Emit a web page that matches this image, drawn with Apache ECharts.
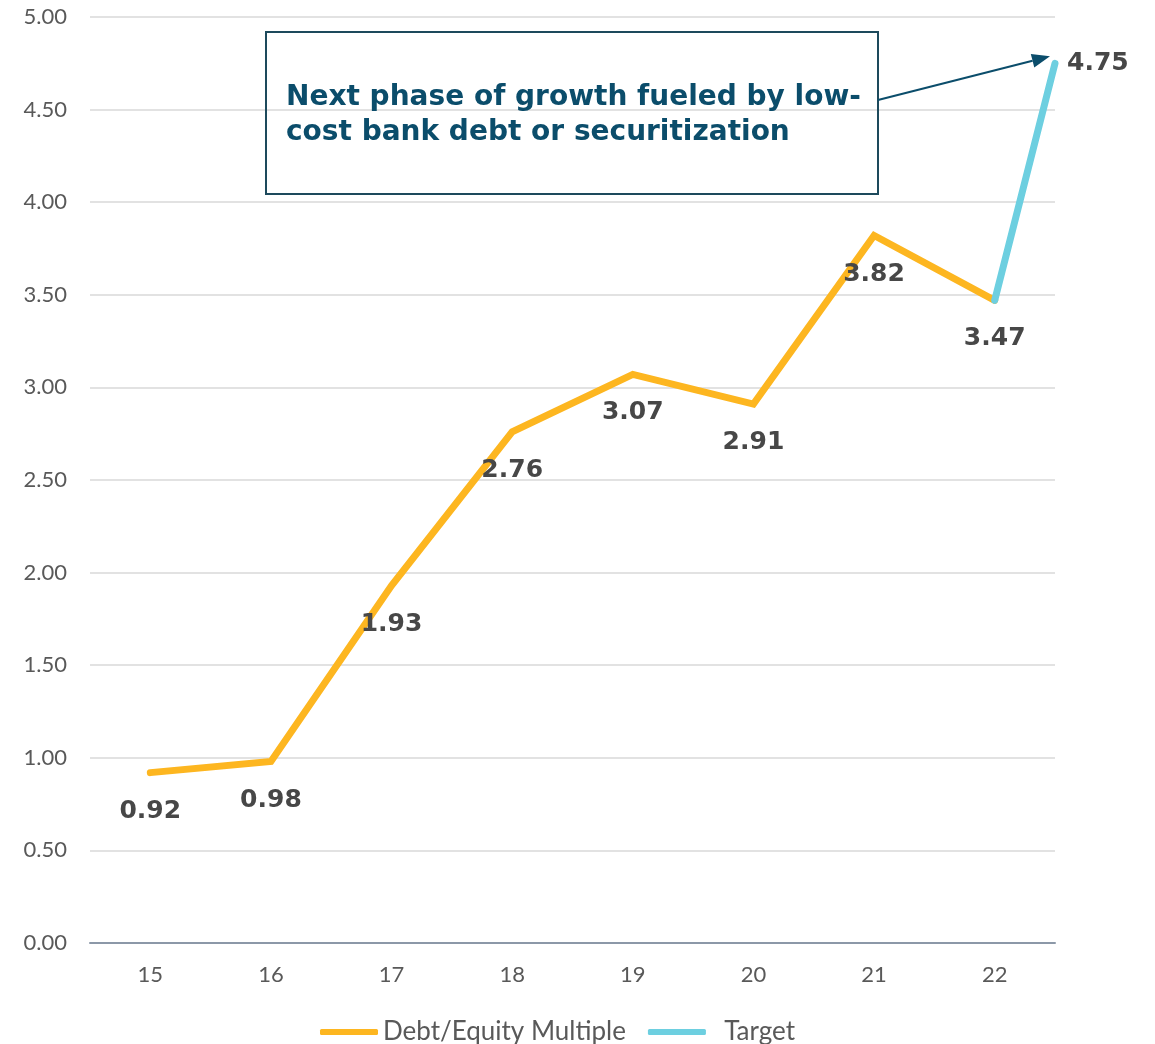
<!DOCTYPE html>
<html><head><meta charset="utf-8">
<script src="https://cdn.jsdelivr.net/npm/echarts@6/dist/echarts.min.js"></script>
<style>html,body{margin:0;padding:0;background:#fff}#c{width:1155px;height:1044px}</style>
</head><body><div id="c"></div>
<script>
const categories = ['15','16','17','18','19','20','21','22'];
const debtEquity = [0.92, 0.98, 1.93, 2.76, 3.07, 2.91, 3.82, 3.47];
const targetYear = 22.5;
const targetValue = 4.75;
const annotation = 'Next phase of growth fueled by low-\ncost bank debt or securitization';

const FONT = 'Lato';
const BOLD = 'DejaVu Sans';
const years = categories.map(Number);
const debtData = years.map((y,i)=>[y, debtEquity[i]]);
const lastIdx = years.length-1;
const targetData = [[years[lastIdx], debtEquity[lastIdx]], [targetYear, targetValue]];

const chart = echarts.init(document.getElementById('c'));
chart.setOption({
  animation:false,
  textStyle:{fontFamily:FONT},
  grid:{left:90,right:100,top:17,bottom:101},
  legend:{
    bottom:-6,left:315,itemWidth:58,itemHeight:6,itemGap:22,icon:'roundRect',
    textStyle:{fontSize:26,color:'#595959',fontFamily:FONT},
    formatter:n=>n==='Target'?'  Target':n,
    data:['Debt/Equity Multiple','Target']
  },
  xAxis:[
    {type:'category',data:categories,boundaryGap:true,
     axisTick:{show:false},axisLine:{lineStyle:{color:'#8c98a8',width:2}},
     axisLabel:{fontSize:22,color:'#595959',margin:21}},
    {type:'value',min:14.5,max:22.5,show:false}
  ],
  yAxis:{type:'value',min:0,max:5,interval:0.5,
    axisLabel:{fontSize:22,color:'#595959',margin:23,formatter:v=>v.toFixed(2)},
    splitLine:{lineStyle:{color:'#d9d9d9',width:1.5}},
    axisLine:{show:false},axisTick:{show:false}},
  series:[
    {name:'Debt/Equity Multiple',type:'line',xAxisIndex:1,data:debtData,
     symbol:'circle',symbolSize:0,showSymbol:true,
     lineStyle:{color:'#fdb620',width:7,cap:'round',join:'miter'},
     itemStyle:{color:'#fdb620'},
     label:{show:true,position:'bottom',distance:26,fontSize:25,fontWeight:'bold',color:'#474747',fontFamily:BOLD,
       formatter:p=>p.value[1].toFixed(2)}},
    {name:'Target',type:'line',xAxisIndex:1,data:targetData,
     symbol:'circle',symbolSize:0,showSymbol:true,z:3,
     lineStyle:{color:'#6dcfe0',width:7,cap:'round'},
     itemStyle:{color:'#6dcfe0'},
     label:{show:true,position:'right',distance:12,fontSize:25,fontWeight:'bold',color:'#474747',fontFamily:BOLD,
       formatter:p=>p.dataIndex===1?p.value[1].toFixed(2):''}}
  ]
});

const tip = chart.convertToPixel({xAxisIndex:1,yAxisIndex:0},[targetYear,targetValue]);
const boxL=266, boxT=32, boxR=878, boxB=194;
const ax0=boxR, ay0=100, ax1=tip[0]-5, ay1=tip[1]-7;
const ang=Math.atan2(ay1-ay0, ax1-ax0);
const hl=18, hw=7;
const bx=ax1-hl*Math.cos(ang), by=ay1-hl*Math.sin(ang);
const nx=-Math.sin(ang), ny=Math.cos(ang);
chart.setOption({graphic:[
  {type:'rect',shape:{x:boxL,y:boxT,width:boxR-boxL,height:boxB-boxT},
   style:{fill:'transparent',stroke:'#1d4a5c',lineWidth:2},z:10},
  {type:'text',left:boxL+20,top:boxT+48,z:11,
   style:{text:annotation,fontFamily:BOLD,fontSize:28,fontWeight:'bold',fill:'#0b4d6b',lineHeight:35}},
  {type:'line',shape:{x1:ax0,y1:ay0,x2:bx,y2:by},style:{stroke:'#0b4d6b',lineWidth:2},z:10},
  {type:'polygon',shape:{points:[[ax1,ay1],[bx+nx*hw,by+ny*hw],[bx-nx*hw,by-ny*hw]]},
   style:{fill:'#0b4d6b'},z:10}
]});
</script></body></html>
